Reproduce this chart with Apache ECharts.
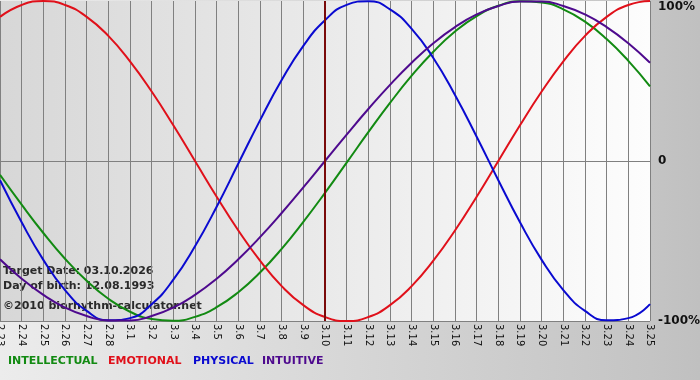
<!DOCTYPE html>
<html>
<head>
<meta charset="utf-8">
<script src="https://cdn.jsdelivr.net/npm/echarts@6/dist/echarts.min.js"></script>
<style>html,body{margin:0;padding:0;}#c{width:700px;height:380px;}</style>
</head>
<body>
<div id="c"></div>
<script>
const days = ['2.23','2.24','2.25','2.26','2.27','2.28','3.1','3.2','3.3','3.4','3.5','3.6','3.7','3.8','3.9','3.10','3.11','3.12','3.13','3.14','3.15','3.16','3.17','3.18','3.19','3.20','3.21','3.22','3.23','3.24','3.25'];
const yTicks = [-100, 0, 100];
const physical = [-12.0,-38.3,-61.8,-80.7,-93.7,-99.6,-98.2,-89.5,-74.2,-53.3,-28.6,-1.6,25.4,50.6,72.0,88.0,97.6,99.9,94.8,82.6,64.4,41.3,15.2,-12.0,-38.3,-61.8,-80.7,-93.7,-99.6,-98.2,-89.5];
const emotional = [90.1,97.5,100,97.5,90.1,78.2,62.3,43.4,22.3,0,-22.3,-43.4,-62.3,-78.2,-90.1,-97.5,-100,-97.5,-90.1,-78.2,-62.3,-43.4,-22.3,0,22.3,43.4,62.3,78.2,90.1,97.5,100];
const intellectual = [-8.6,-27.3,-45.0,-61.1,-74.9,-86.1,-94.2,-98.8,-99.9,-97.4,-91.4,-82.0,-69.7,-54.9,-38.0,-19.9,-1.0,18.0,36.3,53.3,68.3,80.9,90.6,97.0,99.8,99.1,94.8,87.1,76.2,62.6,46.7];
const intuitive = [-61.4,-73.6,-83.7,-91.6,-96.9,-99.7,-99.7,-96.9,-91.6,-83.7,-73.6,-61.4,-47.6,-32.5,-16.5,0,16.5,32.5,47.6,61.4,73.6,83.7,91.6,96.9,99.7,99.7,96.9,91.6,83.7,73.6,61.4];
const targetDay = '3.10';
const infoLines = ['Target Date: 03.10.2026', 'Day of birth: 12.08.1993', '\u00a92010 biorhythm-calculator.net'];
const legendNames = ['INTELLECTUAL', 'EMOTIONAL', 'PHYSICAL', 'INTUITIVE'];

const colors = { INTELLECTUAL: '#128a12', EMOTIONAL: '#e0101a', PHYSICAL: '#0a0ad0', INTUITIVE: '#4e0a8e' };
const font = 'DejaVu Sans, Verdana, sans-serif';

const chart = echarts.init(document.getElementById('c'), null, { renderer: 'canvas' });

function line(name, data, extra) {
  return Object.assign({
    name: name, type: 'line', data: data, smooth: true, showSymbol: false,
    symbol: 'none', lineStyle: { color: colors[name], width: 2 }, itemStyle: { color: colors[name] },
    animation: false
  }, extra || {});
}

const legendX = [8, 108, 193, 262];
const graphics = [];
infoLines.forEach((t, k) => {
  graphics.push({ type: 'text', left: 3, top: [266, 281, 301][k], style: { text: t, fill: '#2a2a2a', font: 'bold 11px ' + font } });
});
legendNames.forEach((n, k) => {
  graphics.push({ type: 'text', left: legendX[k], top: 356, style: { text: n, fill: colors[n], font: 'bold 11px ' + font } });
});

chart.setOption({
  animation: false,
  backgroundColor: { type: 'linear', x: 0, y: 0, x2: 1, y2: 0, colorStops: [
    { offset: 0, color: '#ececec' }, { offset: 0.93, color: '#c4c4c4' }, { offset: 1, color: '#c0c0c0' } ] },
  grid: {
    left: 0, right: 50, top: 1, bottom: 59, show: true, borderWidth: 0,
    containLabel: false, outerBoundsMode: 'none',
    backgroundColor: { type: 'linear', x: 0, y: 0, x2: 1, y2: 0, colorStops: [
      { offset: 0, color: '#d7d7d7' }, { offset: 1, color: '#fdfdfd' } ] }
  },
  xAxis: {
    type: 'category', data: days, boundaryGap: false,
    axisLine: { show: true, lineStyle: { color: '#808080', width: 1 } },
    axisTick: { show: true, length: 3, lineStyle: { color: '#808080' } },
    splitLine: { show: true, lineStyle: { color: '#808080', width: 1 } },
    axisLabel: { rotate: -90, fontSize: 10, fontFamily: font, color: '#111', margin: 3, interval: 0, hideOverlap: false }
  },
  yAxis: {
    type: 'value', position: 'right', min: yTicks[0], max: yTicks[2], interval: 100,
    axisLine: { show: false }, axisTick: { show: false },
    splitLine: { show: true, lineStyle: { color: ['#808080', '#808080', 'rgba(0,0,0,0)'], width: 1 } },
    axisLabel: {
      margin: 8, fontSize: 12, fontWeight: 'bold', fontFamily: font, color: '#111',
      verticalAlignMaxLabel: 'top',
      formatter: v => (v === 0 ? '0' : v + '%')
    }
  },
  series: [
    line('INTELLECTUAL', intellectual),
    line('EMOTIONAL', emotional),
    line('PHYSICAL', physical),
    line('INTUITIVE', intuitive, {
      markLine: {
        silent: true, symbol: 'none', label: { show: false },
        lineStyle: { color: '#7a0a0a', width: 2, type: 'solid' },
        data: [{ xAxis: targetDay }]
      }
    })
  ],
  graphic: graphics
});
</script>
</body>
</html>
